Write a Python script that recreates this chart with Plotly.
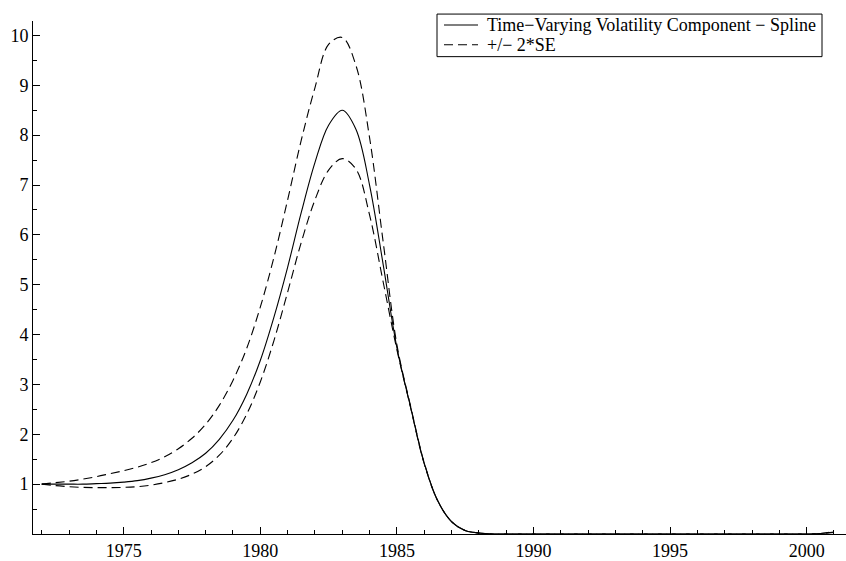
import plotly.graph_objects as go

# Half-yearly sample points of the estimated volatility component
years = [1972 + 0.5 * i for i in range(59)]

spline = [
    1.00, 1.00, 1.00, 1.00, 1.01, 1.02, 1.04, 1.07, 1.12, 1.19,
    1.29, 1.43, 1.62, 1.90, 2.28, 2.80, 3.48, 4.35, 5.35, 6.45,
    7.45, 8.20, 8.50, 8.12, 7.00, 5.40, 3.74, 2.55, 1.42, 0.66,
    0.25, 0.07, 0.02, 0.00, 0.00, 0.00, 0.00, 0.00, 0.00, 0.00,
    0.00, 0.00, 0.00, 0.00, 0.00, 0.00, 0.00, 0.00, 0.00, 0.00,
    0.00, 0.00, 0.00, 0.00, 0.00, 0.00, 0.00, 0.01, 0.04,
]
upper = [
    1.00, 1.03, 1.06, 1.10, 1.15, 1.21, 1.27, 1.34, 1.43, 1.55,
    1.71, 1.92, 2.20, 2.58, 3.08, 3.72, 4.55, 5.55, 6.70, 7.90,
    8.95, 9.82, 9.96, 9.40, 7.95, 5.85, 3.80, 2.57, 1.43, 0.66,
    0.25, 0.07, 0.02, 0.00, 0.00, 0.00, 0.00, 0.00, 0.00, 0.00,
    0.00, 0.00, 0.00, 0.00, 0.00, 0.00, 0.00, 0.00, 0.00, 0.00,
    0.00, 0.00, 0.00, 0.00, 0.00, 0.00, 0.00, 0.01, 0.05,
]
lower = [
    1.00, 0.97, 0.95, 0.935, 0.93, 0.93, 0.935, 0.95, 0.98, 1.03,
    1.10, 1.20, 1.35, 1.58, 1.92, 2.40, 3.05, 3.88, 4.85, 5.85,
    6.70, 7.30, 7.53, 7.32, 6.40, 5.05, 3.70, 2.54, 1.41, 0.66,
    0.25, 0.07, 0.02, 0.00, 0.00, 0.00, 0.00, 0.00, 0.00, 0.00,
    0.00, 0.00, 0.00, 0.00, 0.00, 0.00, 0.00, 0.00, 0.00, 0.00,
    0.00, 0.00, 0.00, 0.00, 0.00, 0.00, 0.00, 0.01, 0.03,
]

x_ticks = [1975, 1980, 1985, 1990, 1995, 2000]
y_ticks = [1, 2, 3, 4, 5, 6, 7, 8, 9, 10]

legend_labels = ["Time\u2212Varying Volatility Component \u2212 Spline", "+/\u2212 2*SE"]

FONT = "Liberation Serif, Times New Roman, serif"
DASH = "9px,5px"
LINE = dict(color="black", width=1.1, shape="spline", smoothing=1.0)

fig = go.Figure()
fig.add_trace(go.Scatter(x=years, y=spline, mode="lines", line=LINE,
                         name=legend_labels[0]))
fig.add_trace(go.Scatter(x=years, y=upper, mode="lines",
                         line=dict(LINE, dash=DASH), name=legend_labels[1]))
fig.add_trace(go.Scatter(x=years, y=lower, mode="lines",
                         line=dict(LINE, dash=DASH), name=legend_labels[1]))

# Plot area geometry (pixels) used to place the boxed key in paper units
L, R, T, B, W, H = 33, 0, 21, 22, 846, 561
pw, ph = W - L - R, H - T - B


def px(x):
    return (x - L) / pw


def py(y):
    return (H - B - y) / ph


# Boxed key in the upper right corner
fig.add_shape(type="rect", xref="paper", yref="paper",
              x0=px(437), x1=px(822), y0=py(57), y1=py(14),
              line=dict(color="black", width=1), fillcolor="white")
for i, (label, dash) in enumerate(zip(legend_labels, ["solid", DASH])):
    yc = 25 + 20 * i
    fig.add_shape(type="line", xref="paper", yref="paper",
                  x0=px(444), x1=px(478), y0=py(yc), y1=py(yc),
                  line=dict(color="black", width=1.1, dash=dash))
    fig.add_annotation(xref="paper", yref="paper", x=px(485), y=py(yc),
                       xanchor="left", yanchor="middle", showarrow=False,
                       text=label, font=dict(family=FONT, size=18, color="black"))

fig.update_layout(
    width=W, height=H,
    margin=dict(l=L, r=R, t=T, b=B),
    paper_bgcolor="white", plot_bgcolor="white",
    font=dict(family=FONT, size=18, color="black"),
    showlegend=False,
    xaxis=dict(
        range=[1971.68, 2001.44], showgrid=False, zeroline=False,
        showline=True, linecolor="black", linewidth=1,
        tickvals=x_ticks, ticks="inside", ticklen=7, tickcolor="black",
        minor=dict(dtick=1, tick0=1970, ticks="inside", ticklen=4,
                   tickcolor="black", showgrid=False),
        tickfont=dict(family=FONT, size=18),
    ),
    yaxis=dict(
        range=[0, 10.29], showgrid=False, zeroline=False,
        showline=True, linecolor="black", linewidth=1,
        tickvals=y_ticks, ticks="inside", ticklen=7, tickcolor="black",
        minor=dict(dtick=0.5, tick0=0, ticks="inside", ticklen=4,
                   tickcolor="black", showgrid=False),
        tickfont=dict(family=FONT, size=18),
    ),
)

fig.write_html("out.html")
